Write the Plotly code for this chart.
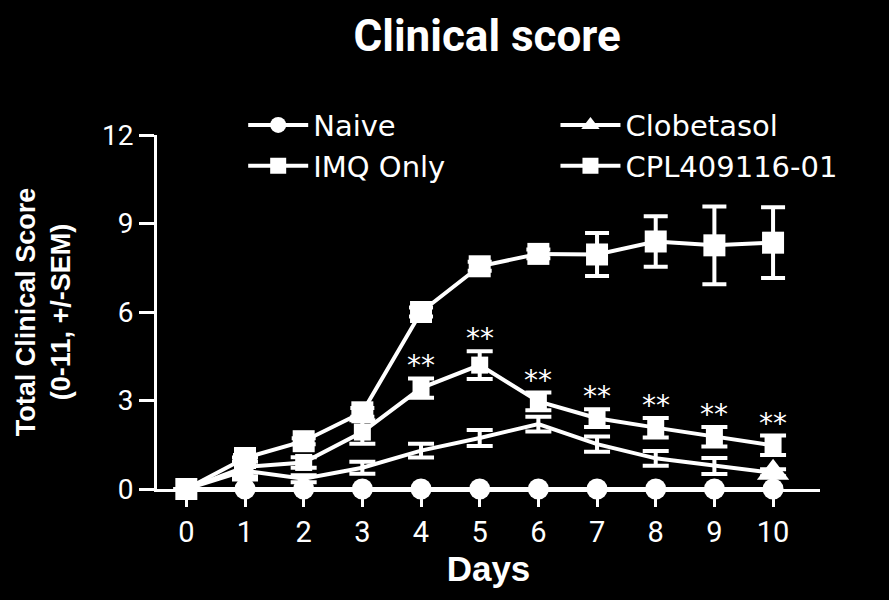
import plotly.graph_objects as go

days = [0, 1, 2, 3, 4, 5, 6, 7, 8, 9, 10]
naive = [0, 0, 0, 0, 0, 0, 0, 0, 0, 0, 0]
imq = [0, 1.05, 1.62, 2.6, 6.0, 7.55, 7.97, 7.95, 8.39, 8.26, 8.35]
imq_sem = [0, 0.1, 0.1, 0.15, 0.15, 0.15, 0.15, 0.73, 0.86, 1.32, 1.2]
clob = [0, 0.62, 0.35, 0.72, 1.3, 1.73, 2.2, 1.52, 1.04, 0.78, 0.55]
clob_sem = [0, 0.3, 0.12, 0.2, 0.23, 0.27, 0.25, 0.26, 0.25, 0.27, 0.12]
cpl = [0, 0.75, 0.9, 1.93, 3.42, 4.2, 2.97, 2.4, 2.08, 1.77, 1.48]
cpl_sem = [0, 0.32, 0.18, 0.4, 0.33, 0.47, 0.3, 0.3, 0.33, 0.33, 0.33]
sig_days = [4, 5, 6, 7, 8, 9, 10]
sig_label = "**"
y_ticks = [0, 3, 6, 9, 12]

W = "white"
FONT = "DejaVu Sans"
LW = 4

fig = go.Figure()

fig.add_trace(go.Scatter(
    x=days, y=naive, name="Naive", mode="lines+markers",
    line=dict(color=W, width=LW),
    marker=dict(symbol="circle", size=21, color=W),
    cliponaxis=False, legend="legend",
))
fig.add_trace(go.Scatter(
    x=days, y=clob, name="Clobetasol", mode="lines+markers",
    line=dict(color=W, width=LW),
    marker=dict(symbol="triangle-up", size=28, color=W, line=dict(width=0)),
    selectedpoints=[days.index(10)],
    selected=dict(marker=dict(opacity=1)),
    unselected=dict(marker=dict(opacity=0)),
    error_y=dict(type="data", array=clob_sem, color=W, thickness=4, width=13),
    cliponaxis=False, legend="legend2",
))
fig.add_trace(go.Scatter(
    x=days, y=cpl, name="CPL409116-01", mode="lines+markers",
    line=dict(color=W, width=LW),
    marker=dict(symbol="square", size=17, color=W),
    error_y=dict(type="data", array=cpl_sem, color=W, thickness=4, width=13),
    cliponaxis=False, legend="legend2",
))
fig.add_trace(go.Scatter(
    x=days, y=imq, name="IMQ Only", mode="lines+markers",
    line=dict(color=W, width=LW),
    marker=dict(symbol="square", size=22, color=W),
    error_y=dict(type="data", array=imq_sem, color=W, thickness=4, width=12),
    cliponaxis=False, legend="legend",
))

for d in sig_days:
    i = days.index(d)
    fig.add_annotation(
        x=d, y=cpl[i] + cpl_sem[i], text=sig_label, showarrow=False,
        yanchor="bottom", xanchor="center", yshift=-6,
        font=dict(family=FONT, size=28, color=W),
    )

legend_common = dict(
    font=dict(family=FONT, size=29, color=W),
    bgcolor="rgba(0,0,0,0)", borderwidth=0,
    itemwidth=60, xanchor="left", yanchor="top",
    itemclick=False, itemdoubleclick=False,
)
fig.update_layout(
    width=889, height=600,
    paper_bgcolor="black", plot_bgcolor="black",
    margin=dict(l=157, r=69, t=135, b=111),
    title=dict(
        text="<b>Clinical score</b>", x=0.548, xanchor="center",
        y=0.94, yanchor="middle",
        font=dict(family="Liberation Sans Narrow, Roboto, sans-serif", size=44, color=W),
    ),
    legend=dict(x=0.130, y=1.10, **legend_common),
    legend2=dict(x=0.601, y=1.10, **legend_common),
    xaxis=dict(
        range=[-0.5, 10.8], tickmode="array", tickvals=days,
        ticks="outside", ticklen=15, tickwidth=3, tickcolor=W,
        showline=True, linewidth=3, linecolor=W,
        showgrid=False, zeroline=False,
        tickfont=dict(family="Roboto", size=29, color=W),
        title=dict(text="<b>Days</b>", standoff=8,
                   font=dict(family="Liberation Sans", size=35, color=W)),
    ),
    yaxis=dict(
        range=[0, 12], tickmode="array", tickvals=y_ticks,
        ticks="outside", ticklen=15, tickwidth=3, tickcolor=W,
        showline=True, linewidth=3, linecolor=W,
        showgrid=False, zeroline=False,
        tickfont=dict(family="Roboto", size=28, color=W),
        title=dict(text="<b>Total Clinical Score<br>(0-11, +/-SEM)</b>", standoff=24,
                   font=dict(family="Liberation Sans", size=27, color=W)),
    ),
)

fig.write_html("out.html")
